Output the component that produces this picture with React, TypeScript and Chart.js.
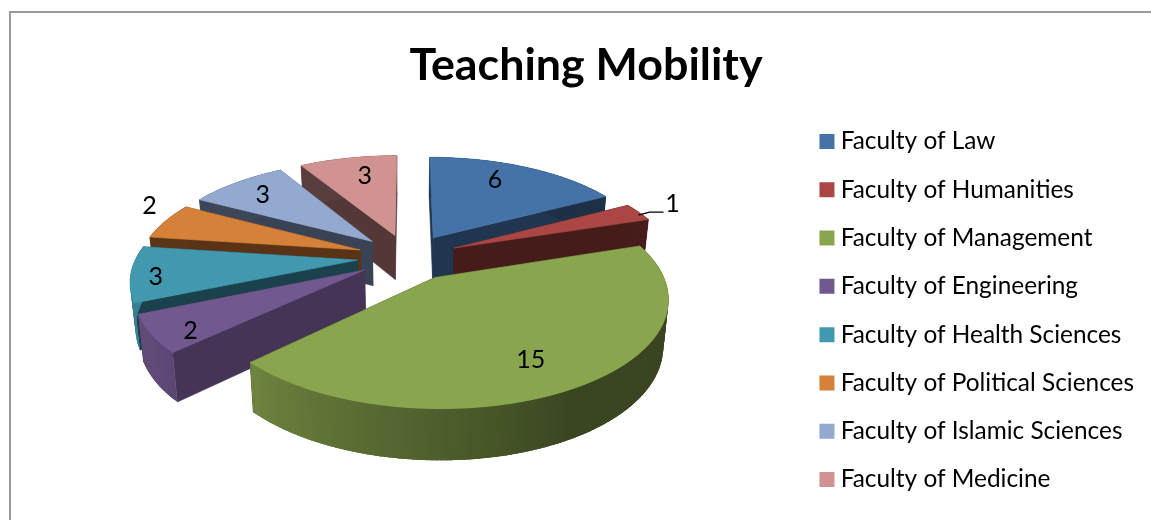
import React, { useEffect, useRef } from "react";
import { Chart, registerables } from "chart.js";

Chart.register(...registerables);

const categories = [
  "Faculty of Law",
  "Faculty of Humanities",
  "Faculty of Management",
  "Faculty of Engineering",
  "Faculty of Health Sciences",
  "Faculty of Political Sciences",
  "Faculty of Islamic Sciences",
  "Faculty of Medicine",
];
const mobilityValues = [6, 1, 15, 2, 3, 2, 3, 3];
const chartTitle = "Teaching Mobility";

const topColors = ["#4573A7", "#AA4643", "#89A54E", "#71588F", "#4198AF", "#D6813A", "#93A9CF", "#D19392"];
const wallColors = ["#203550", "#451C1A", "#36401F", "#443456", "#1A414C", "#5A3316", "#3A4356", "#543838"];
const labelAngleFrac = [0.42, 0.42, 0.52, 0.3, 0.42, 0.82, 0.47, 0.58];
const labelRadius = [0.77, 1.21, 0.76, 0.86, 0.89, 1.17, 0.775, 0.74];

const FONT = "Lato, Carlito, Calibri, sans-serif";
const O = { x: 408, y: 257 };
const RX = 221;
const RY = 100.5;
const PERSP = 5.8;
const EXPLODE = 0.23;
const DEPTH = 45;

function persp(Y: number) {
  return 1 / (1 - Y / PERSP);
}
function hexRgb(h: string) {
  return [1, 3, 5].map((i) => parseInt(h.slice(i, i + 2), 16));
}
function shade(h: string, f: number) {
  const [r, g, b] = hexRgb(h);
  return `rgb(${Math.round(r * f)},${Math.round(g * f)},${Math.round(b * f)})`;
}

function project(mid: number, phi: number, r: number, low = false) {
  const X = EXPLODE * Math.sin(mid) + r * Math.sin(phi);
  const Y = -EXPLODE * Math.cos(mid) - r * Math.cos(phi);
  const p = persp(Y);
  const sx = O.x + RX * X * p;
  const sy = O.y + RY * Y * p;
  if (!low) return { x: sx, y: sy };
  return { x: O.x + (sx - O.x) * 0.98, y: sy + DEPTH * Math.pow(p, 0.6) };
}

function poly(ctx: CanvasRenderingContext2D, pts: { x: number; y: number }[], color: string, stroke = true) {
  ctx.beginPath();
  pts.forEach((q, i) => (i ? ctx.lineTo(q.x, q.y) : ctx.moveTo(q.x, q.y)));
  ctx.closePath();
  ctx.fillStyle = color;
  ctx.fill();
  if (stroke) {
    ctx.strokeStyle = color;
    ctx.lineWidth = 0.6;
    ctx.stroke();
  }
}

const pie3d = {
  id: "pie3d",
  beforeDraw(chart: any) {
    const { ctx, width, height } = chart;
    ctx.save();
    ctx.fillStyle = "#fff";
    ctx.fillRect(0, 0, width, height);
    ctx.strokeStyle = "#9a9a9a";
    ctx.lineWidth = 2;
    ctx.beginPath();
    ctx.moveTo(10, height + 2);
    ctx.lineTo(10, 12);
    ctx.lineTo(width + 2, 12);
    ctx.stroke();
    ctx.restore();
  },
  afterLayout(chart: any) {
    const lg = chart.legend;
    lg.top += 35;
    lg.bottom += 35;
    lg.left -= 7;
    lg.right -= 7;
  },
  beforeDatasetsDraw(chart: any) {
    const { ctx } = chart;
    const arcs = chart.getDatasetMeta(0).data;
    const slices = arcs.map((a: any, i: number) => {
      const s = a.startAngle + Math.PI / 2;
      const e = a.endAngle + Math.PI / 2;
      return { i, s, e, mid: (s + e) / 2 };
    });
    const order = [...slices].sort((a, b) => -Math.cos(a.mid) + Math.cos(b.mid));
    ctx.save();
    order.forEach(({ i, s, e, mid }: any) => {
      const top = topColors[i];
      const wall = wallColors[i];
      const apexT = project(mid, mid, 0);
      const apexB = project(mid, mid, 0, true);
      [s, e].forEach((edge) => {
        poly(ctx, [apexT, project(mid, edge, 1), project(mid, edge, 1, true), apexB], wall);
      });
      const steps = Math.max(4, Math.ceil(((e - s) * 180) / Math.PI));
      const stepA = (e - s) / steps;
      for (let k = 0; k < steps; k++) {
        const a0 = s + stepA * k;
        const a1 = Math.min(e, a0 + stepA * 2.5);
        const deg = ((a0 + stepA / 2) * 180) / Math.PI;
        const f = deg > 272 ? 0.42 : Math.min(0.85, Math.max(0.42, 0.42 + ((deg - 150) / 76) * 0.38));
        poly(ctx, [project(mid, a0, 1), project(mid, a1, 1), project(mid, a1, 1, true), project(mid, a0, 1, true)], shade(top, f), false);
      }
      const pts = [apexT];
      for (let k = 0; k <= steps; k++) pts.push(project(mid, s + stepA * k, 1));
      poly(ctx, pts, top);
    });
    ctx.restore();
    return false;
  },
  afterDraw(chart: any) {
    const { ctx } = chart;
    const arcs = chart.getDatasetMeta(0).data;
    ctx.save();
    ctx.font = `25px ${FONT}`;
    ctx.fillStyle = "#000";
    ctx.textAlign = "center";
    ctx.textBaseline = "middle";
    arcs.forEach((a: any, i: number) => {
      const s = a.startAngle + Math.PI / 2;
      const e = a.endAngle + Math.PI / 2;
      const mid = (s + e) / 2;
      const q = project(mid, s + (e - s) * labelAngleFrac[i], labelRadius[i]);
      ctx.fillText(String(mobilityValues[i]), q.x, q.y);
      if (categories[i].includes("Humanities")) {
        const st = project(mid, mid + 0.03, 0.98);
        ctx.strokeStyle = "#000";
        ctx.lineWidth = 1.4;
        ctx.beginPath();
        ctx.moveTo(st.x, st.y);
        ctx.lineTo(st.x + 11, st.y - 3);
        ctx.lineTo(q.x - 9, st.y - 3);
        ctx.stroke();
      }
    });
    ctx.restore();
  },
};

export default function App() {
  const ref = useRef<HTMLCanvasElement | null>(null);
  useEffect(() => {
    document.body.style.margin = "0";
    document.body.style.background = "#fff";
    const chart = new Chart(ref.current as HTMLCanvasElement, {
      type: "pie",
      data: {
        labels: categories,
        datasets: [{ data: mobilityValues, backgroundColor: topColors, borderWidth: 0 }],
      },
      options: {
        responsive: false,
        animation: false,
        layout: { padding: { left: 21, right: 0, top: 43, bottom: 12 } },
        plugins: {
          tooltip: { enabled: false },
          title: {
            display: true,
            text: chartTitle,
            color: "#000",
            font: { family: FONT, size: 44.8, weight: "bold", lineHeight: 1 },
            padding: { top: 0, bottom: 10 },
          },
          legend: {
            display: true,
            position: "right",
            labels: {
              color: "#000",
              font: { family: FONT, size: 24.4, lineHeight: 1 },
              usePointStyle: true,
              pointStyle: "rect",
              boxWidth: 3,
              boxHeight: 15,
              padding: 23.9,
            },
          },
        },
      },
      plugins: [pie3d],
    } as any);
    return () => chart.destroy();
  }, []);
  return <canvas ref={ref} width={1151} height={520} style={{ display: "block" }} />;
}
